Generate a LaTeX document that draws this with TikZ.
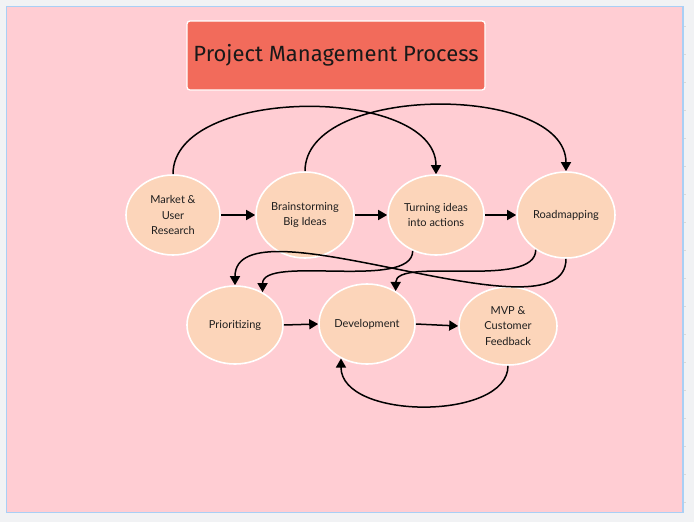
\documentclass[tikz,border=0pt]{standalone}
\usepackage{fontspec}
\setmainfont{Lato}
\newfontfamily\titlefont{Fira Sans}
\usetikzlibrary{shapes.geometric,arrows.meta}
\definecolor{outerbg}{HTML}{F1F2F4}
\definecolor{panelbg}{HTML}{FFCDD3}
\definecolor{panelline}{HTML}{A9CFF5}
\definecolor{titlefill}{HTML}{F26B5B}
\definecolor{nodefill}{HTML}{FCD5BA}
\definecolor{txt}{HTML}{1E1E1E}
\tikzset{
  stage/.style={ellipse, draw=white, line width=1.6pt, fill=nodefill, inner sep=0pt, align=center, text=txt, font=\fontsize{11}{15.5}\selectfont},
  flow/.style={draw=black, line width=1.5pt, -{Triangle[length=9pt,width=10pt]}},
}
\begin{document}
\begin{tikzpicture}[x=1pt,y=-1pt]
\useasboundingbox (0,0) rectangle (694,522);
\fill[outerbg] (0,0) rectangle (694,522);
\draw[panelline, line width=1.2pt, fill=panelbg] (6.5,6.5) rectangle (683,512.5);
\foreach \k in {0,...,17} {\draw[black!15, line width=0.5pt] (683.5,26+28*\k) -- (686,26+28*\k);}
\node[draw=white, line width=1.3pt, fill=titlefill, rounded corners=3pt, minimum width=298pt, minimum height=69pt, inner sep=0pt, text=black!90, font=\titlefont\fontsize{22}{26}\selectfont] (title) at (336,55.5) {Project Management Process};
\node[stage, minimum width=94pt, minimum height=80pt] (market) at (173,215) {Market \&\\User\\Research};
\node[stage, minimum width=98pt, minimum height=86pt] (brain) at (305,215) {Brainstorming\\Big Ideas};
\node[stage, minimum width=96pt, minimum height=80pt] (turning) at (436,215) {Turning ideas\\into actions};
\node[stage, minimum width=98pt, minimum height=86pt] (road) at (566,215) {Roadmapping};
\node[stage, minimum width=96pt, minimum height=78pt] (prior) at (235,325) {Prioritizing};
\node[stage, minimum width=96pt, minimum height=80pt] (dev) at (367,324) {Development};
\node[stage, minimum width=98pt, minimum height=78pt] (mvp) at (508,326) {MVP \&\\Customer\\Feedback};
\draw[flow] (market.east) -- (brain.west);
\draw[flow] (brain.east) -- (turning.west);
\draw[flow] (turning.east) -- (road.west);
\draw[flow] (prior.east) -- (dev.west);
\draw[flow] (dev.east) -- (mvp.west);
\draw[flow] (market.north) .. controls +(0,-89) and +(0,-89) .. (turning.north);
\draw[flow] (brain.north) .. controls +(0,-88) and +(0,-88) .. (road.north);
\draw[flow] (turning.-123) .. controls +(0,40) and +(0,-38) .. (prior.50);
\draw[flow] (road.-131) .. controls +(0,40) and +(0,-35) .. (dev.49);
\draw[flow] (road.south) .. controls +(0,87) and +(0,-90) .. (prior.north);
\draw[flow] (mvp.south) .. controls +(0,55) and +(0,62) .. (dev.-127);
\end{tikzpicture}
\end{document}
